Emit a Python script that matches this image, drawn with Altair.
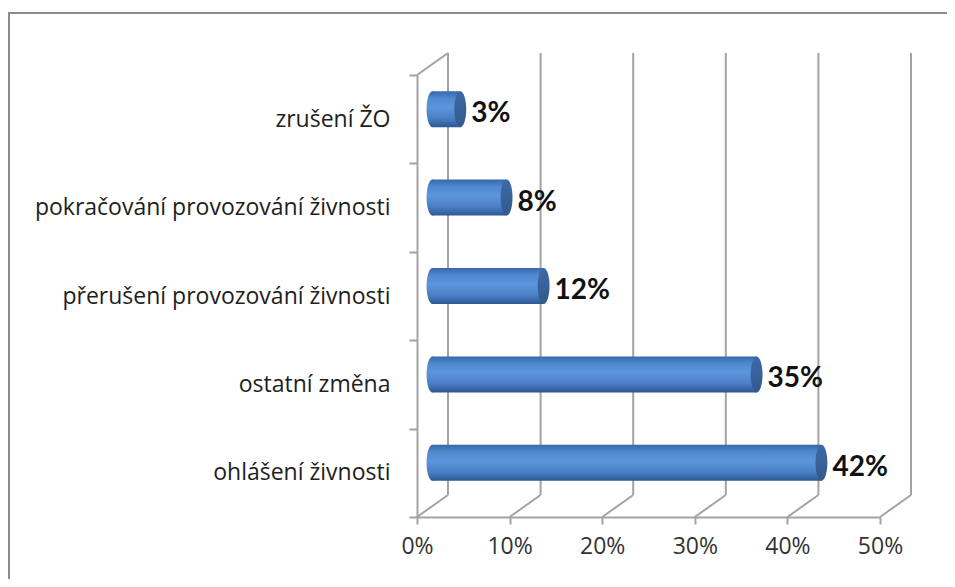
import altair as alt
import pandas as pd

categories = ["zrušení ŽO", "pokračování provozování živnosti",
              "přerušení provozování živnosti", "ostatní změna", "ohlášení živnosti"]
values = [0.03, 0.08, 0.12, 0.35, 0.42]
value_labels = ["3%", "8%", "12%", "35%", "42%"]
ticks = [0.0, 0.1, 0.2, 0.3, 0.4, 0.5]

W, H = 463, 442          # front plot box
DX, DY = 31, -22         # 3D depth offset in px
DXV = DX / W * 0.5       # depth offset in data units
BAR_SHIFT = -10          # bars sit mid-depth
BAR_H = 36

bars_df = pd.DataFrame({"cat": categories, "v": values, "lab": value_labels})
ticks_df = pd.DataFrame({"t": ticks})
cats_df = pd.DataFrame({"cat": categories})

GRID = "#a3a3a3"
xscale = alt.Scale(domain=[0, 0.5], range=[0, W], nice=False, zero=False)
xaxis = alt.Axis(values=ticks, format=".0%", title=None, grid=False,
                 domainColor=GRID, domainWidth=2, tickColor=GRID, tickWidth=2,
                 tickSize=7, labelPadding=11, labelFontSize=23, labelColor="#333333",
                 labelFont="Open Sans", labelFlush=False)


def X(field):
    return alt.X(field, type="quantitative", scale=xscale, axis=xaxis)


ybar = alt.Y("cat:N", sort=categories, axis=None,
             scale=alt.Scale(domain=categories, range=[BAR_SHIFT, H + BAR_SHIFT],
                             paddingInner=0, paddingOuter=0))

# floor diagonals
floor = alt.Chart(ticks_df).transform_calculate(t2=f"datum.t + {DXV}").mark_rule(
    color=GRID, strokeWidth=2).encode(
    x=X("t"), x2="t2:Q", y=alt.value(H), y2=alt.value(H + DY))

# back wall gridlines
back = alt.Chart(ticks_df).transform_calculate(tb=f"datum.t + {DXV}").mark_rule(
    color=GRID, strokeWidth=2).encode(
    x=X("tb"), y=alt.value(DY), y2=alt.value(H + DY))

# left wall top diagonal
wall_top = alt.Chart(pd.DataFrame({"t": [0.0]})).transform_calculate(
    t2=f"datum.t + {DXV}").mark_rule(color=GRID, strokeWidth=2).encode(
    x=X("t"), x2="t2:Q", y=alt.value(0), y2=alt.value(DY))

# y axis (front left edge)
yaxis_layer = alt.Chart(cats_df).mark_point(opacity=0).encode(
    y=alt.Y("cat:N", sort=categories, title=None,
            scale=alt.Scale(domain=categories, paddingInner=0, paddingOuter=0),
            axis=alt.Axis(domainColor=GRID, domainWidth=2, tickColor=GRID, tickWidth=2,
                          tickSize=8, tickBand="extent", labelPadding=19, grid=False,
                          labelFontSize=23, labelColor="#1e1e1e", labelFont="Open Sans",
                          labelLimit=500)),
    x=alt.value(0))

grad_body = alt.LinearGradient(
    gradient="linear", x1=0, x2=0, y1=0, y2=1,
    stops=[alt.GradientStop(color="#3767a8", offset=0),
           alt.GradientStop(color="#5189d0", offset=0.2),
           alt.GradientStop(color="#5d95dc", offset=0.45),
           alt.GradientStop(color="#4a80c6", offset=0.75),
           alt.GradientStop(color="#2d5891", offset=1)])
grad_cap = alt.LinearGradient(
    gradient="linear", x1=0, x2=0, y1=0, y2=1,
    stops=[alt.GradientStop(color="#3d6aa6", offset=0),
           alt.GradientStop(color="#33598b", offset=1)])

ellipse = "M0,-1 A0.33,1 0 1,1 0,1 A0.33,1 0 1,1 0,-1 Z"

base = alt.Chart(bars_df).transform_calculate(
    s=f"{DXV / 2}", e=f"datum.v + {DXV / 2}")

left_end = base.mark_point(shape=ellipse, size=BAR_H * BAR_H, filled=True,
                           fill=grad_body, strokeWidth=0, opacity=1).encode(
    x=X("s"), y=ybar)
body = base.mark_bar(size=BAR_H, fill=grad_body, strokeWidth=0).encode(
    x=X("s"), x2="e:Q", y=ybar)
cap = base.mark_point(shape=ellipse, size=BAR_H * BAR_H, filled=True,
                      fill=grad_cap, strokeWidth=0, opacity=1).encode(
    x=X("e"), y=ybar)
labels = base.mark_text(align="left", baseline="middle", dx=11, dy=5,
                        fontSize=28, fontWeight="bold", font="Lato",
                        color="#111111").encode(
    x=X("e"), y=ybar, text="lab:N")

# outer frame (top and left edges of the chart border)
frame_top = alt.Chart(pd.DataFrame({"a": [0]})).mark_rule(
    color="#8c8c8c", strokeWidth=2).encode(
    x=alt.value(-409), x2=alt.value(W + 67), y=alt.value(-62))
frame_left = alt.Chart(pd.DataFrame({"a": [0]})).mark_rule(
    color="#8c8c8c", strokeWidth=2).encode(
    x=alt.value(-408), y=alt.value(-63), y2=alt.value(H + 62))

chart = alt.layer(
    frame_top, frame_left, back, floor, wall_top, yaxis_layer,
    left_end, body, cap, labels
).resolve_scale(y="independent").properties(
    width=W, height=H,
    view=alt.ViewBackground(stroke="transparent", strokeWidth=0),
    autosize=alt.AutoSizeParams(type="none"),
    padding={"left": 409, "top": 67, "right": 67, "bottom": 62},
).configure_view(stroke="transparent", strokeWidth=0).configure_axis(
    grid=False).configure(background="white")

chart.save("out.html", embed_options={"renderer": "svg", "actions": False})
